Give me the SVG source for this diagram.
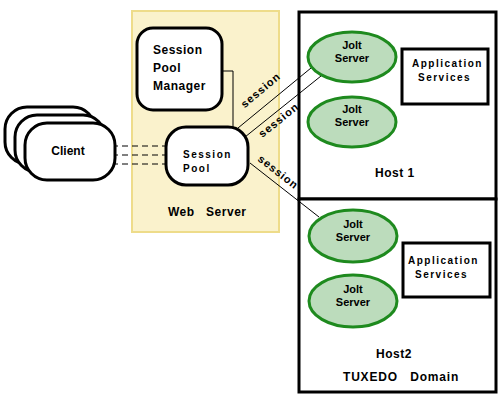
<svg xmlns="http://www.w3.org/2000/svg" width="501" height="404" viewBox="0 0 501 404">
<style>
text{font-family:"Liberation Sans",Arial,sans-serif;font-weight:bold;fill:#000}
.rr{fill:#fff;stroke:#000;stroke-width:3}
.jolt{fill:#bcdcbc;stroke:#1e8a1e;stroke-width:3}
.box{fill:#fff;stroke:#000;stroke-width:3}
.lbl{font-size:12px}
.jt{font-size:11px}
.sm{font-size:10px;letter-spacing:1.5px}
.ss{font-size:11px;letter-spacing:1px}
.ln{stroke:#000;stroke-width:1;fill:none}
.dash{stroke:#000;stroke-width:1;stroke-dasharray:6,4}
</style>
<rect width="501" height="404" fill="#fff"/>
<g id="web-server">
<rect x="132" y="11" width="147" height="221" fill="#faf2cc" stroke="#eedc8a" stroke-width="2"/>
<text class="lbl" x="168" y="216" letter-spacing="0.5" xml:space="preserve">Web   Server</text>
</g>
<g id="host1">
<rect x="299" y="12" width="197" height="187" fill="#fff" stroke="#000" stroke-width="3"/>
<text class="lbl" x="375" y="177" letter-spacing="0.5">Host 1</text>
</g>
<g id="host2">
<rect x="299" y="199" width="197" height="193" fill="#fff" stroke="#000" stroke-width="3"/>
<text class="lbl" x="376" y="358" letter-spacing="0.5">Host2</text>
<text class="lbl" x="343" y="381" letter-spacing="0.8" xml:space="preserve">TUXEDO   Domain</text>
</g>
<g id="connectors">
<polyline class="ln" points="222,71 233,71 233,127"/>
<line class="dash" x1="112" y1="146" x2="166" y2="146"/>
<line class="dash" x1="112" y1="155" x2="166" y2="155"/>
<line class="dash" x1="112" y1="164" x2="166" y2="164"/>
<line class="ln" x1="238" y1="128" x2="311" y2="68"/>
<line class="ln" x1="245" y1="137" x2="321" y2="76"/>
<line class="ln" x1="250" y1="163" x2="319" y2="217"/>
<text class="ss" transform="translate(263,93) rotate(-40)" text-anchor="middle">session</text>
<text class="ss" transform="translate(281,123) rotate(-39)" text-anchor="middle">session</text>
<text class="ss" transform="translate(276,175) rotate(38)" text-anchor="middle">session</text>
</g>
<g id="client">
<rect class="rr" x="5" y="107" width="90" height="57" rx="22"/>
<rect class="rr" x="15" y="115" width="90" height="57" rx="22"/>
<rect class="rr" x="25" y="123" width="90" height="57" rx="22"/>
<text class="lbl" x="68" y="155" text-anchor="middle">Client</text>
</g>
<g id="session-pool-manager">
<rect class="rr" x="137" y="28" width="85" height="82" rx="16"/>
<text class="lbl" x="153" y="54" letter-spacing="0.5">Session</text>
<text class="lbl" x="153" y="72" letter-spacing="0.5">Pool</text>
<text class="lbl" x="153" y="90" letter-spacing="0.5">Manager</text>
</g>
<g id="session-pool">
<rect class="rr" x="166" y="127" width="82" height="58" rx="20"/>
<text class="sm" x="183" y="158">Session</text>
<text class="sm" x="183" y="172">Pool</text>
</g>
<g id="jolt1">
<ellipse class="jolt" cx="352" cy="57" rx="44" ry="25"/>
<text class="jt" x="352" y="49" text-anchor="middle">Jolt</text>
<text class="jt" x="352" y="62" text-anchor="middle">Server</text>
</g>
<g id="jolt2">
<ellipse class="jolt" cx="352" cy="122" rx="44" ry="25"/>
<text class="jt" x="352" y="113" text-anchor="middle">Jolt</text>
<text class="jt" x="352" y="126" text-anchor="middle">Server</text>
</g>
<g id="jolt3">
<ellipse class="jolt" cx="353" cy="236" rx="44" ry="26"/>
<text class="jt" x="353" y="228" text-anchor="middle">Jolt</text>
<text class="jt" x="353" y="241" text-anchor="middle">Server</text>
</g>
<g id="jolt4">
<ellipse class="jolt" cx="353" cy="301" rx="44" ry="26"/>
<text class="jt" x="353" y="293" text-anchor="middle">Jolt</text>
<text class="jt" x="353" y="306" text-anchor="middle">Server</text>
</g>
<g id="app-services1">
<rect class="box" x="402" y="49" width="86" height="55"/>
<text class="sm" x="412" y="67">Application</text>
<text class="sm" x="418" y="81">Services</text>
</g>
<g id="app-services2">
<rect class="box" x="403" y="243" width="87" height="54"/>
<text class="sm" x="408" y="264">Application</text>
<text class="sm" x="415" y="278">Services</text>
</g>
</svg>
